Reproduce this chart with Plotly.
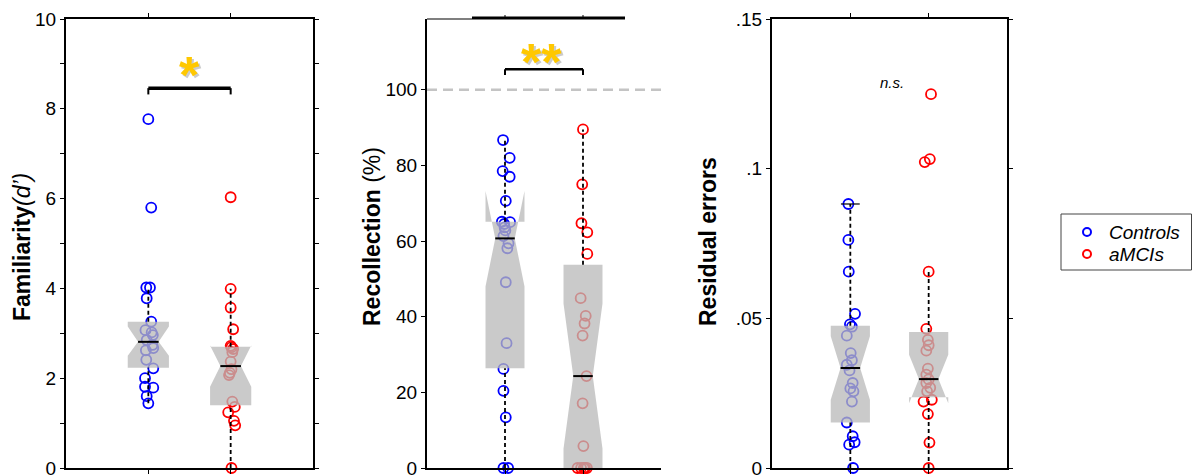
import plotly.graph_objects as go

# ---------------- data ----------------
groups = ["Controls", "aMCIs"]
group_colors = ["#0000ff", "#ff0000"]

# Familiarity (d')
fam_controls = [7.77, 5.80, 4.02, 4.02, 3.78, 3.26, 3.07, 3.02, 2.96, 2.85, 2.74, 2.67,
                2.62, 2.41, 2.22, 2.00, 1.81, 1.79, 1.60, 1.44]
fam_controls_jitter = [0.0, 0.035, -0.025, 0.02, -0.02, 0.035, -0.035, 0.04, 0.055, -0.02,
                       0.05, 0.06, -0.03, -0.025, 0.06, -0.04, -0.04, 0.06, -0.02, 0.0]
fam_amci = [6.03, 3.99, 3.57, 3.09, 2.72, 2.69, 2.65, 2.58, 2.37, 2.20, 2.12, 2.07,
            1.48, 1.36, 1.24, 1.05, 0.95, 0.0]
fam_amci_jitter = [0.0, 0.0, 0.0, 0.03, 0.0, 0.01, 0.03, 0.02, 0.0, 0.01, -0.01, -0.02,
                   0.02, 0.05, -0.03, 0.04, 0.055, 0.01]
# box statistics: q1, median, q3, notch low, notch high, whisker low, whisker high
fam_controls_box = [2.23, 2.81, 3.26, 2.50, 3.15, 1.44, 4.02]
fam_amci_box = [1.40, 2.27, 2.70, 1.81, 2.73, 0.0, 3.99]

# Recollection (%)
rec_controls = [86.7, 82.0, 78.5, 77.0, 70.6, 65.1, 65.0, 64.5, 63.6, 62.8, 61.3, 59.4,
                58.1, 49.1, 33.0, 26.2, 20.4, 13.4, 0.0, 0.0]
rec_controls_jitter = [-0.025, 0.06, -0.03, 0.06, 0.01, -0.04, 0.065, -0.01, -0.005, 0.005,
                       -0.02, 0.045, 0.03, 0.01, 0.02, -0.02, -0.02, 0.01, -0.02, 0.04]
rec_amci = [89.5, 75.0, 64.7, 62.3, 56.6, 44.9, 40.2, 38.2, 35.0, 24.3, 17.1, 5.8,
            0.0, 0.0, 0.0, 0.0, 0.0]
rec_amci_jitter = [0.0, -0.01, -0.02, 0.055, 0.055, -0.03, 0.035, 0.02, -0.005, 0.045,
                   -0.005, 0.005, -0.07, -0.025, 0.01, 0.05, 0.025]
rec_controls_box = [26.4, 60.7, 65.1, 48.0, 73.2, 0.0, 86.7]
rec_amci_box = [0.0, 24.3, 53.7, 5.1, 43.5, 0.0, 89.5]

# Residual errors
res_controls = [0.0882, 0.0762, 0.0656, 0.0515, 0.0480, 0.0472, 0.0442, 0.0384, 0.0360,
                0.0345, 0.0326, 0.0284, 0.0266, 0.0256, 0.0222, 0.0152, 0.0106, 0.0086,
                0.0078, 0.0]
res_controls_jitter = [-0.025, -0.025, -0.02, 0.06, -0.005, 0.02, -0.045, 0.005, 0.02,
                       -0.045, -0.01, 0.03, 0.0, 0.04, 0.02, -0.045, 0.03, 0.055, -0.015, 0.035]
res_amci = [0.1249, 0.1032, 0.1022, 0.0656, 0.0465, 0.0428, 0.0410, 0.0392, 0.0332,
            0.0312, 0.0296, 0.0284, 0.0268, 0.0256, 0.0228, 0.0222, 0.0180, 0.0085, 0.0]
res_amci_jitter = [0.03, 0.015, -0.05, 0.0, -0.03, -0.01, 0.0, -0.03, -0.01, -0.03, 0.0,
                   -0.03, 0.02, -0.02, 0.04, -0.065, -0.01, 0.01, 0.0]
res_controls_box = [0.0152, 0.0334, 0.0475, 0.0228, 0.0440, 0.0, 0.0882]
res_amci_box = [0.0236, 0.0297, 0.0454, 0.0216, 0.0378, 0.0, 0.0656]

panel_titles = ["<b>Familiarity</b><i>(d’)</i>", "<b>Recollection</b> (%)", "<b>Residual errors</b>"]
y_ranges = [[0, 10], [0, 118.7], [0, 0.15]]
y_tickvals = [[0, 2, 4, 6, 8, 10], [0, 20, 40, 60, 80, 100], [0, 0.05, 0.1, 0.15]]
y_ticktext = [["0", "2", "4", "6", "8", "10"], ["0", "20", "40", "60", "80", "100"],
              ["0", ".05", ".1", ".15"]]
significance = ["*", "**", "n.s."]
sig_bar_y = [8.46, 105.4, None]
sig_tick_y = [8.32, 103.9, None]
sig_text_y = [8.91, 109.2, 0.1287]
sig_text_x = [1.5, 1.47, 1.528]
reference_line = [None, 100, None]
capped_whisker = [[False, False], [False, False], [True, False]]

panels = [
    [(fam_controls, fam_controls_jitter, fam_controls_box), (fam_amci, fam_amci_jitter, fam_amci_box)],
    [(rec_controls, rec_controls_jitter, rec_controls_box), (rec_amci, rec_amci_jitter, rec_amci_box)],
    [(res_controls, res_controls_jitter, res_controls_box), (res_amci, res_amci_jitter, res_amci_box)],
]

# ---------------- layout geometry (pixels) ----------------
W, H = 1192, 475
x_domains_px = [(66, 313), (427, 661), (772, 1007)]
y_domain_px = (19, 468)
ylabel_pos_px = [(22, 247), (372, 237), (708, 242)]

FONT = "Liberation Sans, Arial, sans-serif"
BOX_FILL = "rgba(185,185,185,0.76)"
HW = 0.25  # half box width in category units


def notch_polygon(xc, q1, med, q3, nlo, nhi):
    pts = [(xc - HW, q1), (xc - HW, nlo), (xc - HW / 2, med), (xc - HW, nhi), (xc - HW, q3),
           (xc + HW, q3), (xc + HW, nhi), (xc + HW / 2, med), (xc + HW, nlo), (xc + HW, q1),
           (xc - HW, q1)]
    return [p[0] for p in pts], [p[1] for p in pts]


fig = go.Figure()
layout = dict(width=W, height=H, margin=dict(l=0, r=0, t=0, b=0, pad=0, autoexpand=False),
              autosize=False, plot_bgcolor="white", paper_bgcolor="white", showlegend=False,
              font=dict(family=FONT, color="black"))
shapes = []
annotations = []

ydom = [(H - y_domain_px[1]) / H, (H - y_domain_px[0]) / H]
plot_h = y_domain_px[1] - y_domain_px[0]

for p, groups_data in enumerate(panels):
    ax = "" if p == 0 else str(p + 1)
    xref, yref = "x" + ax, "y" + ax
    x0px, x1px = x_domains_px[p]
    boxed = p != 1
    layout["xaxis" + ax] = dict(
        domain=[x0px / W, x1px / W], range=[0, 3], tickvals=[1, 2], showticklabels=False,
        ticks="outside", ticklen=4, tickwidth=1, tickcolor="black",
        showline=True, linecolor="black", linewidth=2, automargin=False,
        mirror=("ticks" if boxed else False), showgrid=False, zeroline=False,
        anchor=yref, fixedrange=True)
    yax = dict(
        domain=ydom, range=y_ranges[p], tickvals=y_tickvals[p], ticktext=y_ticktext[p],
        ticks="outside", ticklen=4, tickwidth=1, tickcolor="black",
        showline=True, linecolor="black", linewidth=2, automargin=False,
        ticklabeloverflow="allow",
        mirror=("ticks" if boxed else False), showgrid=False, zeroline=False,
        anchor=xref, tickfont=dict(family=FONT, size=19, color="black"), fixedrange=True)
    if p == 0:
        yax["minor"] = dict(tickvals=[1, 3, 5, 7, 9], ticks="outside", ticklen=4,
                            tickcolor="black", showgrid=False)
    layout["yaxis" + ax] = yax

    if not boxed:
        # open-topped panel: short thin edge, heavy bar above the groups, top ticks
        top = y_domain_px[0]
        shapes.append(dict(type="line", xref="paper", yref="paper", x0=x0px / W, x1=472 / W,
                           y0=(H - top) / H, y1=(H - top) / H,
                           line=dict(color="black", width=1.2)))
        shapes.append(dict(type="line", xref="paper", yref="paper", x0=472 / W, x1=625 / W,
                           y0=(H - top + 1) / H, y1=(H - top + 1) / H,
                           line=dict(color="black", width=3)))
        for xt in (1, 2):
            shapes.append(dict(type="line", xref=xref, yref=yref + " domain", x0=xt, x1=xt,
                               y0=1, y1=1 + 4 / plot_h, line=dict(color="black", width=1)))

    if reference_line[p] is not None:
        shapes.append(dict(type="line", xref=xref + " domain", yref=yref, x0=0, x1=1,
                           y0=reference_line[p], y1=reference_line[p],
                           line=dict(color="#c4c4c4", width=2.5, dash="10px,6px"), layer="below"))

    for g, (vals, jit, box) in enumerate(groups_data):
        xc = g + 1
        q1, med, q3, nlo, nhi, wlo, whi = box
        # individual observations
        fig.add_trace(go.Scatter(
            x=[xc + j for j in jit], y=vals, mode="markers", xaxis=xref, yaxis=yref,
            marker=dict(symbol="circle-open", size=10, color=group_colors[g],
                        line=dict(width=1.8, color=group_colors[g])),
            cliponaxis=False, hoverinfo="skip", name=groups[g]))
        # notched box
        bx, by = notch_polygon(xc, q1, med, q3, nlo, nhi)
        fig.add_trace(go.Scatter(x=bx, y=by, mode="lines", fill="toself", fillcolor=BOX_FILL,
                                 line=dict(width=0, color="rgba(0,0,0,0)"),
                                 xaxis=xref, yaxis=yref, hoverinfo="skip"))
        # whiskers
        for a, b in [(q3, whi), (wlo, q1)]:
            if b > a:
                fig.add_trace(go.Scatter(x=[xc, xc], y=[a, b], mode="lines",
                                         line=dict(color="black", width=1.8, dash="4px,3px"),
                                         xaxis=xref, yaxis=yref, hoverinfo="skip",
                                         cliponaxis=False))
        if capped_whisker[p][g]:
            fig.add_trace(go.Scatter(x=[xc - 0.12, xc + 0.12], y=[whi, whi], mode="lines",
                                     line=dict(color="black", width=1.2),
                                     xaxis=xref, yaxis=yref, hoverinfo="skip"))
        # median
        fig.add_trace(go.Scatter(x=[xc - HW / 2, xc + HW / 2], y=[med, med], mode="lines",
                                 line=dict(color="black", width=2),
                                 xaxis=xref, yaxis=yref, hoverinfo="skip"))

    # significance bracket
    if sig_bar_y[p] is not None:
        shapes.append(dict(type="line", xref=xref, yref=yref, x0=1, x1=2,
                           y0=sig_bar_y[p], y1=sig_bar_y[p],
                           line=dict(color="black", width=3.5 if p == 0 else 2.5)))
        for xe in (1, 2):
            shapes.append(dict(type="line", xref=xref, yref=yref, x0=xe, x1=xe,
                               y0=sig_tick_y[p], y1=sig_bar_y[p],
                               line=dict(color="black", width=2)))
        for dx, dy, col in [(2, -2, "rgba(140,140,140,0.45)"), (0, 0, "#ffc800")]:
            annotations.append(dict(xref=xref, yref=yref, x=sig_text_x[p], y=sig_text_y[p],
                                    text="<b>" + significance[p] + "</b>", showarrow=False,
                                    xshift=dx, yshift=dy - 7,
                                    font=dict(family=FONT, size=52, color=col)))
    else:
        annotations.append(dict(xref=xref, yref=yref, x=sig_text_x[p], y=sig_text_y[p],
                                text="<i>" + significance[p] + "</i>", showarrow=False,
                                font=dict(family=FONT, size=15, color="black")))

    # y-axis title
    lx, ly = ylabel_pos_px[p]
    annotations.append(dict(xref="paper", yref="paper", x=lx / W, y=(H - ly) / H,
                            text=panel_titles[p], textangle=-90, showarrow=False,
                            xanchor="center", yanchor="middle",
                            font=dict(family=FONT, size=23, color="black")))

# legend box drawn on its own small axis
leg_x0, leg_x1, leg_y0, leg_y1 = 1061, 1192, 214, 270
layout["xaxis4"] = dict(domain=[leg_x0 / W, leg_x1 / W], range=[0, 1], visible=False,
                        fixedrange=True)
layout["yaxis4"] = dict(domain=[(H - leg_y1) / H, (H - leg_y0) / H], range=[0, 1],
                        visible=False, fixedrange=True)
shapes.append(dict(type="rect", xref="paper", yref="paper", x0=leg_x0 / W, x1=(leg_x1 - 0.5) / W,
                   y0=(H - leg_y1) / H, y1=(H - leg_y0) / H,
                   line=dict(color="#444444", width=1)))
leg_marker_x = (1087 - leg_x0) / (leg_x1 - leg_x0)
leg_rows_y = [1 - (232 - leg_y0) / (leg_y1 - leg_y0), 1 - (254 - leg_y0) / (leg_y1 - leg_y0)]
for g in range(2):
    fig.add_trace(go.Scatter(x=[leg_marker_x], y=[leg_rows_y[g]], mode="markers",
                             xaxis="x4", yaxis="y4", hoverinfo="skip",
                             marker=dict(symbol="circle-open", size=8, color=group_colors[g],
                                         line=dict(width=2, color=group_colors[g]))))
    annotations.append(dict(xref="x4", yref="y4", x=(1107 - leg_x0) / (leg_x1 - leg_x0),
                            y=leg_rows_y[g], text="<i>" + groups[g] + "</i>", showarrow=False,
                            xanchor="left", yanchor="middle",
                            font=dict(family=FONT, size=19, color="black")))

layout["shapes"] = shapes
layout["annotations"] = annotations
fig.update_layout(**layout)
fig.write_html("out.html")
